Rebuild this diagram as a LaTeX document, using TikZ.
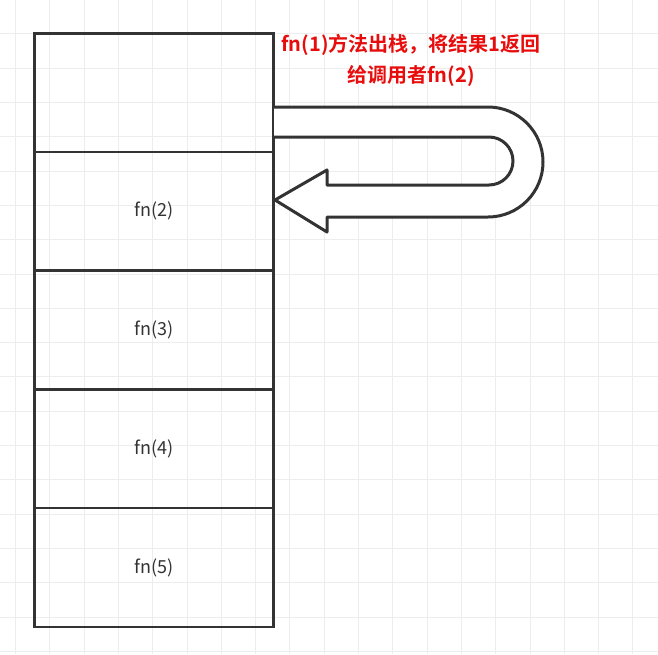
\documentclass[tikz,border=0pt]{standalone}
\usepackage{fontspec}
\setmainfont{Noto Sans CJK SC}
\newfontfamily\cjkb{Noto Sans CJK SC Bold}
\begin{document}
\begin{tikzpicture}[x=1pt,y=-1pt,
  cell/.style={draw=black!80,line width=2.6pt,minimum width=239pt,minimum height=118.7pt,anchor=north west,inner sep=0pt,font=\fontsize{18}{20}\selectfont,text=black!80},
  gridline/.style={draw=black!7,line width=0.8pt}]
\useasboundingbox (0,0) rectangle (658,654);
\foreach \i in {0,...,19} {\draw[gridline] ({15.4+34.3*(\i-1)},0) -- ({15.4+34.3*(\i-1)},654);}
\foreach \i in {0,...,19} {\draw[gridline] (0,{-0.5+34.3*\i}) -- (658,{-0.5+34.3*\i});}
\node[cell] (c1) at (33,32) {};
\node[cell] (c2) at (33,150.7) {fn(2)};
\node[cell] (c3) at (33,269.4) {fn(3)};
\node[cell] (c4) at (33,388.1) {fn(4)};
\node[cell] (c5) at (33,506.8) {fn(5)};
\draw[black!80,line width=3pt,fill=white,line join=round]
  (274,137) -- (489,137) arc(-90:90:24) -- (327,185) -- (327,170) -- (275,200)
  -- (327,232) -- (327,217) -- (488,217) arc(90:-90:55) -- (274,107);
\node[text=red!90!black!95!white,align=center,font=\cjkb\fontsize{20}{31}\selectfont] (t) at (411,60)
  {fn(1)方法出栈，将结果1返回\\给调用者fn(2)};
\end{tikzpicture}
\end{document}
